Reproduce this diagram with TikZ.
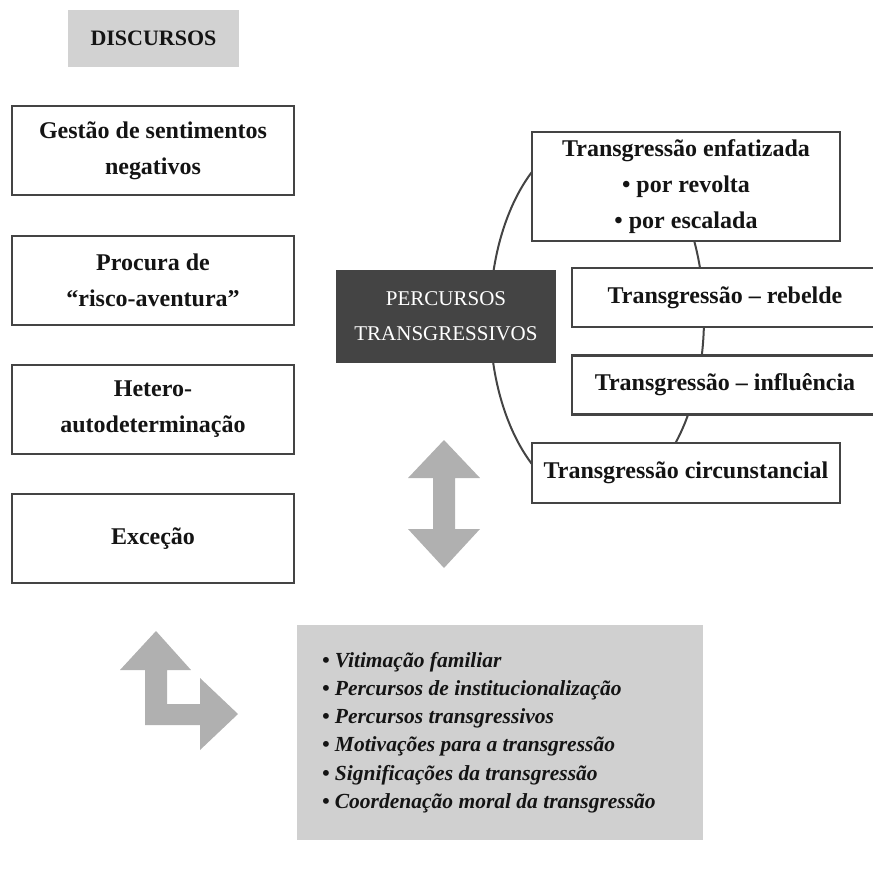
\documentclass[tikz,border=0pt]{standalone}
\usepackage{fontspec}
\setmainfont{Liberation Serif}

\definecolor{boxline}{RGB}{68,68,68}
\definecolor{darkfill}{RGB}{68,68,68}
\definecolor{lightfill}{RGB}{210,210,210}
\definecolor{listfill}{RGB}{208,208,208}
\definecolor{arrowfill}{RGB}{176,176,176}
\definecolor{inktext}{RGB}{20,20,20}

\begin{document}
\begin{tikzpicture}[x=1pt, y=-1pt,
  box/.style={draw=boxline, line width=2.2pt, fill=white, inner sep=0pt,
    align=center, text=inktext, font=\bfseries\fontsize{24}{36}\selectfont},
  leftbox/.style={box, minimum width=282pt, minimum height=89pt},
  widebox/.style={box, minimum width=308pt},
  shiftbox/.style={box, minimum width=306pt, minimum height=59pt},
  blockarrow/.style={fill=arrowfill, draw=none}]

\useasboundingbox (0,0) rectangle (873,871);

% title
\node (discursos) at (153.5,38.5) [fill=lightfill, minimum width=171pt,
  minimum height=57pt, inner sep=0pt, text=inktext,
  font=\bfseries\fontsize{22}{26}\selectfont] {DISCURSOS};

% discursos
\node (gestao) at (153,150.5) [leftbox] {Gestão de sentimentos\\negativos};
\node (procura) at (153,280.5) [leftbox] {Procura de\\“risco-aventura”};
\node (hetero) at (153,409.5) [leftbox] {Hetero-\\autodeterminação};
\node (excecao) at (153,538.5) [leftbox] {Exceção};

% ring behind the right-hand boxes
\draw [boxline, line width=2pt] (597,318) ellipse [x radius=107pt, y radius=184pt];

\node (enfatizada) at (686,186.5) [widebox, minimum height=109pt]
  {Transgressão enfatizada\\• por revolta\\• por escalada};
\node (rebelde) at (725,297.5) [shiftbox] {Transgressão – rebelde};
\node (influencia) at (725,385) [shiftbox] {Transgressão – influência};
\node (circunstancial) at (686,473) [widebox, minimum height=60pt]
  {Transgressão circunstancial};

\node (percursos) at (446,316.5) [fill=darkfill, minimum width=220pt,
  minimum height=93pt, inner sep=0pt, align=center, text=white,
  font=\fontsize{21}{35}\selectfont] {PERCURSOS\\TRANSGRESSIVOS};

% block arrows
\draw [blockarrow] (444,440) -- (480,478) -- (455,478) -- (455,529) -- (480,529)
  -- (444,568) -- (408,529) -- (433,529) -- (433,478) -- (408,478) -- cycle;
\draw [blockarrow] (156,631) -- (191,670) -- (167,670) -- (167,704) -- (200,704)
  -- (200,678) -- (238,714) -- (200,750) -- (200,725) -- (145,725) -- (145,670)
  -- (120,670) -- cycle;

% themes
\node (temas) at (500,732.5) [fill=listfill, minimum width=406pt,
  minimum height=215pt, inner xsep=25pt, inner ysep=0pt, text width=356pt,
  align=flush left, text=inktext, font=\bfseries\itshape\fontsize{21.5}{28.3}\selectfont]
  {• Vitimação familiar\\
   • Percursos de institucionalização\\
   • Percursos transgressivos\\
   • Motivações para a transgressão\\
   • Significações da transgressão\\
   • Coordenação moral da transgressão};

\end{tikzpicture}
\end{document}
